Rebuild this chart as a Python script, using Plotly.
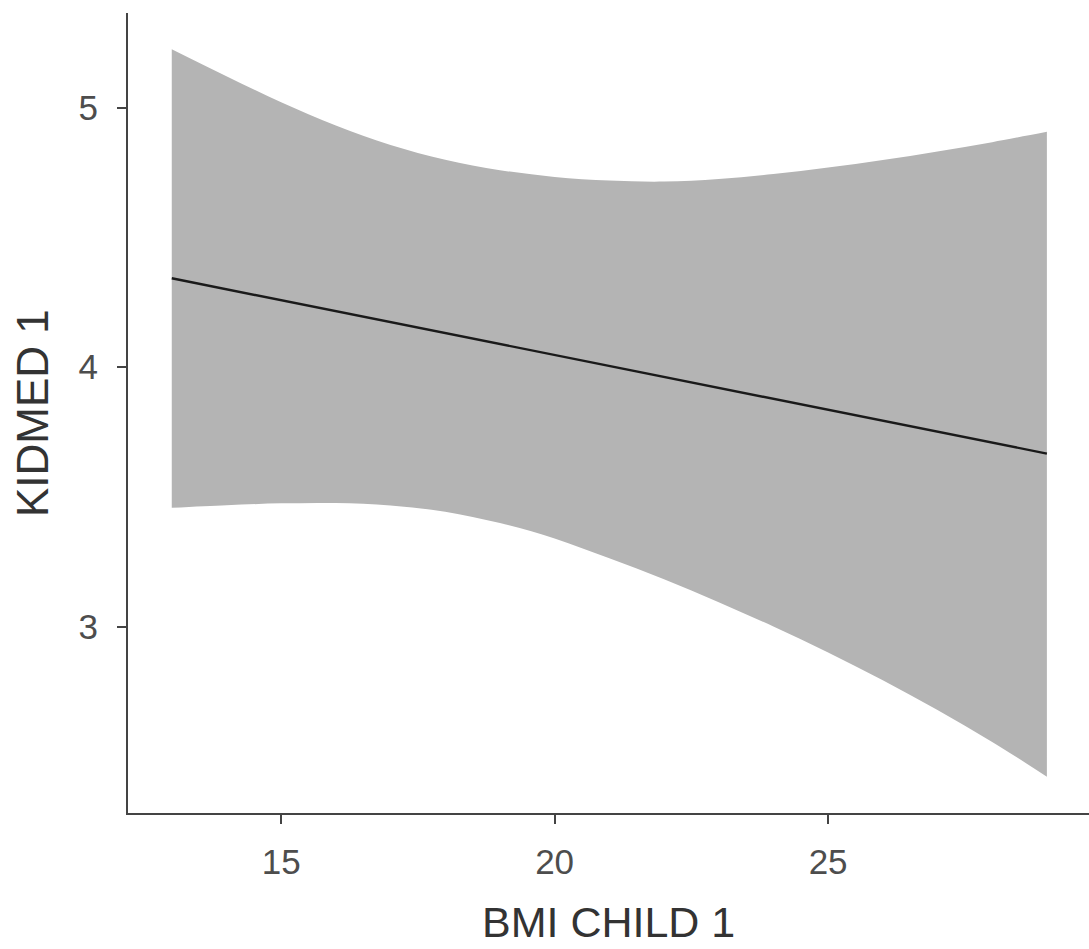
import plotly.graph_objects as go

# Data
bmi = [13, 14, 15, 16, 17, 18, 19, 20, 21, 22, 23, 24, 25, 26, 27, 28, 29]
ci_upper = [5.226, 5.122, 5.022, 4.932, 4.857, 4.800, 4.760, 4.734, 4.720,
            4.716, 4.726, 4.745, 4.770, 4.799, 4.832, 4.868, 4.908]
ci_lower = [3.458, 3.468, 3.475, 3.476, 3.467, 3.443, 3.399, 3.340, 3.263,
            3.182, 3.094, 3.000, 2.900, 2.793, 2.678, 2.555, 2.421]
fit_x = [13, 29]
fit_y = [4.343, 3.667]

x_ticks = [15, 20, 25]
y_ticks = [3, 4, 5]

FONT = "Liberation Sans, Arial, Helvetica, sans-serif"
AXIS_COL = "#444444"
TICK_COL = "#4d4d4d"

fig = go.Figure()
fig.add_trace(go.Scatter(x=bmi, y=ci_lower, mode="lines",
                         line=dict(width=0, shape="spline"),
                         showlegend=False, hoverinfo="skip"))
fig.add_trace(go.Scatter(x=bmi, y=ci_upper, mode="lines",
                         line=dict(width=0, shape="spline"),
                         fill="tonexty", fillcolor="#b4b4b4",
                         showlegend=False, hoverinfo="skip"))
fig.add_trace(go.Scatter(x=fit_x, y=fit_y, mode="lines",
                         line=dict(color="#1a1a1a", width=2.4),
                         showlegend=False, hoverinfo="skip"))

fig.update_layout(
    width=1089, height=949,
    paper_bgcolor="white", plot_bgcolor="white",
    margin=dict(l=128, r=0, t=13, b=136),
    font=dict(family=FONT),
    showlegend=False,
    xaxis=dict(range=[12.2, 29.77], tickvals=x_ticks,
               ticktext=[str(v) for v in x_ticks],
               showgrid=False, zeroline=False,
               showline=True, linecolor=AXIS_COL, linewidth=2,
               ticks="outside", ticklen=9, tickwidth=2, tickcolor=AXIS_COL,
               tickfont=dict(size=35, color=TICK_COL, family=FONT),
               ticklabelstandoff=8),
    yaxis=dict(range=[2.281, 5.366], tickvals=y_ticks,
               ticktext=[str(v) for v in y_ticks],
               showgrid=False, zeroline=False,
               showline=True, linecolor=AXIS_COL, linewidth=2,
               ticks="outside", ticklen=9, tickwidth=2, tickcolor=AXIS_COL,
               tickfont=dict(size=35, color=TICK_COL, family=FONT),
               ticklabelstandoff=12),
    annotations=[
        dict(text="BMI CHILD 1", xref="paper", yref="paper", x=0.5, y=0,
             xanchor="center", yanchor="middle", yshift=-109, showarrow=False,
             font=dict(size=43, color="#333333", family=FONT)),
        dict(text="KIDMED 1", xref="paper", yref="paper", x=-0.0999, y=0.5,
             xanchor="center", yanchor="middle", textangle=-90, showarrow=False,
             font=dict(size=44, color="#333333", family=FONT)),
    ],
)

fig.write_html(
    "out.html",
    config={"displayModeBar": False},
    post_script="document.body.style.margin='0';document.body.style.padding='0';"
                "document.documentElement.style.overflow='hidden';",
)
